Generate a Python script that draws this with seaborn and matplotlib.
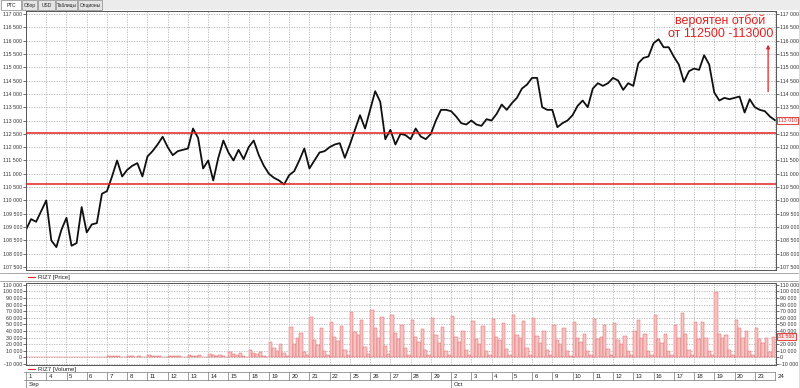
import numpy as np
import pandas as pd
import matplotlib
matplotlib.use("Agg")
import matplotlib.pyplot as plt
from matplotlib.lines import Line2D
from matplotlib.patches import Rectangle
import seaborn as sns

sns.set_style("white")
plt.rcParams["font.family"] = ["Liberation Sans", "DejaVu Sans"]

# price, 4 closes per trading day (first value = open of Sep 1)
price = [108900,
    109300, 109200, 109600, 110000,   # Sep 1
    108500, 108250, 108900, 109350,   # Sep 4
    108300, 108400, 109750, 108800,   # Sep 5
    109100, 109150, 110250, 110350,   # Sep 6
    110900, 111500, 110900, 111150,   # Sep 7
    111300, 111400, 110900, 111650,   # Sep 8
    111850, 112100, 112390, 112000,   # Sep 11
    111700, 111850, 111900, 111950,   # Sep 12
    112700, 112350, 111200, 111500,   # Sep 13
    110750, 111600, 112250, 111800,   # Sep 14
    111500, 111900, 111550, 112000,   # Sep 15
    112250, 111700, 111300, 111000,   # Sep 18
    110850, 110750, 110600, 110950,   # Sep 19
    111100, 111500, 111950, 111200,   # Sep 20
    111500, 111800, 111850, 112000,   # Sep 21
    112100, 112150, 111600, 112100,   # Sep 22
    112650, 113200, 112700, 113400,   # Sep 25
    114100, 113700, 112300, 112650,   # Sep 26
    112100, 112500, 112450, 112300,   # Sep 27
    112700, 112400, 112300, 112500,   # Sep 28
    113000, 113400, 113400, 113350,   # Sep 29
    113150, 112900, 112850, 113000,   # Oct 2
    112850, 112800, 113050, 113000,   # Oct 3
    113250, 113600, 113400, 113650,   # Oct 4
    113850, 114200, 114350, 114600,   # Oct 5
    114600, 113500, 113400, 113400,   # Oct 6
    112750, 112900, 113000, 113200,   # Oct 9
    113550, 113750, 113500, 114200,   # Oct 10
    114400, 114300, 114400, 114600,   # Oct 11
    114500, 114150, 114400, 114300,   # Oct 12
    115150, 115350, 115400, 115900,   # Oct 13
    116050, 115750, 115750, 115400,   # Oct 16
    115100, 114450, 114850, 114950,   # Oct 17
    114900, 115450, 115100, 114050,   # Oct 18
    113750, 113850, 113800, 113850,   # Oct 19
    113900, 113300, 113800, 113500,   # Oct 20
    113400, 113350, 113150, 113010]   # Oct 23

# volume, 6 bars per trading day
volume = [
    0, 0, 0, 0, 0, 0,                            # Sep 1
    0, 0, 0, 0, 0, 0,                            # Sep 4
    0, 0, 0, 0, 0, 0,                            # Sep 5
    0, 0, 0, 0, 0, 0,                            # Sep 6
    2600, 1800, 2200, 1400, 900, 300,            # Sep 7
    2200, 1600, 1300, 2100, 700, 200,            # Sep 8
    3400, 2400, 1700, 2300, 800, 300,            # Sep 11
    2800, 1900, 1500, 2500, 900, 400,            # Sep 12
    3900, 2600, 2100, 3300, 1100, 500,           # Sep 13
    5200, 3100, 2700, 4200, 1500, 600,           # Sep 14
    8800, 4600, 3200, 6100, 2100, 800,           # Sep 15
    10500, 6200, 4700, 8300, 2600, 900,          # Sep 18
    24000, 13500, 9200, 21000, 6500, 2200,       # Sep 19
    46000, 21000, 29000, 37000, 8500, 3100,      # Sep 20
    61000, 27000, 19500, 44000, 10200, 3600,     # Sep 21
    54000, 31000, 24500, 47000, 11800, 3300,     # Sep 22
    69000, 39000, 34000, 56000, 15500, 4800,     # Sep 25
    72000, 44000, 29500, 61000, 17800, 5200,     # Sep 26
    64000, 37500, 27500, 49000, 13600, 4100,     # Sep 27
    57000, 30500, 24000, 42500, 11700, 3400,     # Sep 28
    59500, 34500, 21800, 45500, 10400, 3000,     # Sep 29
    62000, 31500, 23500, 40500, 11100, 3200,     # Oct 2
    54500, 27800, 19800, 47500, 9300, 2900,      # Oct 3
    58000, 30200, 26300, 51500, 12200, 3800,     # Oct 4
    63500, 33800, 29600, 55500, 13800, 4200,     # Oct 5
    59500, 31800, 22400, 39800, 11900, 3100,     # Oct 6
    49500, 25800, 19600, 43800, 9100, 2800,      # Oct 9
    53500, 29800, 23800, 35800, 10100, 3200,     # Oct 10
    57500, 27800, 30400, 49800, 12100, 3900,     # Oct 11
    52000, 25800, 19800, 31800, 9200, 2900,      # Oct 12
    39800, 57000, 29800, 35800, 10200, 3100,     # Oct 13
    64000, 27800, 21800, 35800, 10100, 2900,     # Oct 16
    49000, 29800, 67000, 34800, 11900, 3100,     # Oct 17
    54000, 27800, 54000, 29800, 10100, 2900,     # Oct 18
    99000, 35800, 29800, 33800, 11900, 3900,     # Oct 19
    57000, 45000, 29800, 39800, 10100, 3100,     # Oct 20
    44000, 27800, 21800, 29800, 8100, 31560]     # Oct 23

day_labels = ["1", "4", "5", "6", "7", "8", "11", "12", "13", "14", "15",
              "18", "19", "20", "21", "22", "25", "26", "27", "28", "29",
              "2", "3", "4", "5", "6", "9", "10", "11", "12", "13",
              "16", "17", "18", "19", "20", "23", "24"]
months = ["Sep", "Oct"]
month_start = [0, 21]
support_levels = [112550, 110630]
note = "вероятен отбой\nот 112500 -113000"
tabs = ["РТС", "Обор", "USD", "Таблицы", "Опционы"]

RED = "#e3221f"
GRID = "#b4b4b4"
W, H = 800, 388
TICK_FS = 3.8


def rect(l, t, r, b):
    return [l / W, 1 - b / H, (r - l) / W, (b - t) / H]


def fmt(v, pos=None):
    return f"{int(round(v)):,}".replace(",", " ")


n_days = len(day_labels) - 1
fig = plt.figure(figsize=(8, 3.88), dpi=100)
fig.patch.set_facecolor("white")

# ---- price panel
ax_p = fig.add_axes(rect(26, 11, 776, 270))
pdf = pd.DataFrame({"t": np.arange(len(price)) * 0.25, "price": price})
sns.lineplot(data=pdf, x="t", y="price", ax=ax_p, color="#101010", lw=1.3)
for lvl in support_levels:
    ax_p.axhline(lvl, color=RED, lw=1.1, zorder=3)
ax_p.set_xlim(0, n_days + 0.05)
ax_p.set_ylim(107390, 117110)
ax_p.set_yticks(np.arange(107500, 117001, 500))
ax_p.yaxis.set_major_formatter(plt.FuncFormatter(fmt))
ax_p.annotate(fmt(price[-1]), xy=(1.003, price[-1]), xycoords=("axes fraction", "data"),
              fontsize=TICK_FS, color=RED, va="center", ha="left", zorder=10,
              bbox=dict(boxstyle="square,pad=0.2", fc="white", ec=RED, lw=0.6))
ax_p.text(34.3, 116980, note, color=RED, fontsize=9, ha="center", va="top",
          multialignment="center", linespacing=1.1)
ax_p.annotate("", xy=(36.66, 115950), xytext=(36.66, 113980),
              arrowprops=dict(arrowstyle="-|>", color=RED, lw=0.9, mutation_scale=5))

# ---- volume panel
ax_v = fig.add_axes(rect(26, 283, 776, 365))
vx = np.arange(len(volume)) / 6.0
ax_v.bar(vx, volume, width=1 / 6, align="edge", color="#f6c2c2", edgecolor="#e06a6a", lw=0.35)
ax_v.set_xlim(0, n_days + 0.05)
ax_v.set_ylim(-11500, 112700)
ax_v.set_yticks(np.arange(-10000, 110001, 10000))
ax_v.yaxis.set_major_formatter(plt.FuncFormatter(fmt))
ax_v.annotate(fmt(volume[-1]), xy=(1.003, volume[-1]), xycoords=("axes fraction", "data"),
              fontsize=TICK_FS, color=RED, va="center", ha="left", zorder=10,
              bbox=dict(boxstyle="square,pad=0.2", fc="#fde6e6", ec=RED, lw=0.6))

for ax in (ax_p, ax_v):
    ax.set_xticks(range(n_days + 1))
    ax.grid(True, ls=(0, (1.5, 1.5)), color=GRID, lw=0.6)
    ax.set_xlabel("")
    ax.set_ylabel("")
    ax.tick_params(axis="x", length=0, labelbottom=False)
    ax.tick_params(axis="y", left=True, right=True, labelleft=True, labelright=True,
                   labelsize=TICK_FS, length=2, width=0.5, pad=0.8, colors="#333333")
    for s in ax.spines.values():
        s.set_color("#555555")
        s.set_linewidth(0.7)

# ---- date strip
ax_d = fig.add_axes(rect(24, 372, 776, 388))
ax_d.set_xlim(-0.1, n_days + 0.05)
ax_d.set_ylim(0, 2)
ax_d.axis("off")
ax_d.axhline(1, color="#777777", lw=0.5)
ax_d.axhline(1.98, color="#777777", lw=0.5)
for i, lab in enumerate(day_labels):
    ax_d.plot([i, i], [1, 2], color="#777777", lw=0.5)
    ax_d.text(i + 0.12, 1.5, lab, fontsize=4.3, va="center", ha="left", color="#222222")
for m, s in zip(months, month_start):
    ax_d.plot([s, s], [0, 1], color="#777777", lw=0.5)
    ax_d.text(s + 0.12, 0.45, m, fontsize=4.3, va="center", ha="left", color="#222222")

# ---- legends and panel frames
for y, lab in [(277, "RIZ7 [Price]"), (369, "RIZ7 [Volume]")]:
    fig.add_artist(Line2D([28 / W, 35 / W], [1 - y / H] * 2, color=RED, lw=0.8))
    fig.text(38 / W, 1 - y / H, lab, fontsize=4.3, va="center", color="#222222")
for y in (273, 281):
    fig.add_artist(Line2D([0, 798 / W], [1 - y / H] * 2, color="#9a9a9a", lw=0.6))
fig.add_artist(Rectangle((798.5 / W, 0), 1.5 / W, 1, transform=fig.transFigure,
                         color="#cfe0f0", lw=0))

# ---- tabs on top
fig.add_artist(Rectangle((0, 1 - 10 / H), 1, 10 / H, transform=fig.transFigure,
                         fc="#ececec", ec="none"))
tab_x = [1, 22, 38, 56, 78, 103]
for k, name in enumerate(tabs):
    x0, x1 = tab_x[k], tab_x[k + 1]
    fig.add_artist(Rectangle((x0 / W, 1 - 10 / H), (x1 - x0 - 1) / W, 9.5 / H,
                             transform=fig.transFigure,
                             fc="white" if k == 0 else "#e4e4e4", ec="#8a8a8a", lw=0.5))
    fig.text((x0 + x1 - 1) / 2 / W, 1 - 5.5 / H, name, fontsize=3.5, va="center",
             ha="center", color="#222222")

fig.savefig("out.png", dpi=100)
